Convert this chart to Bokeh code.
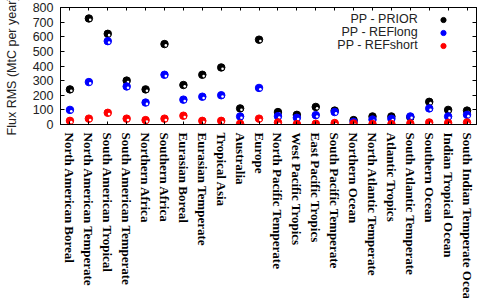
import math

from bokeh.embed import file_html
from bokeh.models import (CategoricalAxis, ColumnDataSource, CustomLabelingPolicy,
                          FactorRange, Label, Legend, LegendItem, LinearAxis,
                          Range1d, SingleIntervalTicker)
from bokeh.plotting import figure
from bokeh.resources import INLINE
from bokeh.transform import dodge

# Regions (22 TransCom-style land and ocean regions)
regions = [
    "North American Boreal", "North American Temperate", "South American Tropical",
    "South American Temperate", "Northern Africa", "Southern Africa", "Eurasian Boreal",
    "Eurasian Temperate", "Tropical Asia", "Australia", "Europe",
    "North Pacific Temperate", "West Pacific Tropics", "East Pacific Tropics",
    "South Pacific Temperate", "Northern Ocean", "North Atlantic Temperate",
    "Atlantic Tropics", "South Atlantic Temperate", "Southern Ocean",
    "Indian Tropical Ocean", "South Indian Temperate Ocean",
]

# Flux RMS (MtC per year) for each comparison
pp_prior = [240, 725, 620, 300, 240, 550, 270, 340, 390, 110, 580,
            85, 66, 120, 95, 30, 55, 55, 50, 155, 100, 95]
pp_reflong = [100, 290, 570, 260, 150, 340, 170, 190, 200, 55, 250,
              57, 46, 64, 85, 18, 34, 39, 55, 110, 55, 66]
pp_refshort = [25, 40, 80, 40, 30, 40, 60, 25, 25, 5, 40,
               14, 3, 5, 10, 7, 3, 3, 7, 14, 11, 14]

series_names = ["PP - PRIOR", "PP - REFlong", "PP - REFshort"]
series_colors = ["#000000", "#0000ff", "#ff0000"]
series_fields = ["prior", "reflong", "refshort"]

source = ColumnDataSource(dict(region=regions, prior=pp_prior,
                               reflong=pp_reflong, refshort=pp_refshort))

y_lo, y_hi = 0, 800

# frame is 416 x 117 px; the outer width follows from the borders (60 + 416 + 5)
p = figure(width=None, height=298, frame_width=416, frame_height=117,
           x_range=FactorRange(factors=regions), y_range=Range1d(y_lo, y_hi),
           output_backend="svg", toolbar_location=None,
           min_border_left=60, min_border_right=5, min_border_top=7,
           min_border_bottom=0)

p.xgrid.visible = False
p.ygrid.visible = False
p.outline_line_color = "black"
p.outline_line_alpha = 1.0
p.background_fill_color = "white"
p.border_fill_color = "white"

label_font = "Liberation Sans"
label_size = "12.5px"
label_color = "#222222"

# no tick labels on the mirrored axes
no_labels = CustomLabelingPolicy(code="return new Set()")

# Bottom category axis; names read downwards
xa = p.xaxis[0]
xa.major_label_orientation = -math.pi / 2
xa.major_label_standoff = 8
xa.major_label_text_font = "Liberation Serif"
xa.major_label_text_font_style = "bold"
xa.major_label_text_font_size = "13px"
xa.major_label_text_color = "black"
xa.major_tick_in = 3
xa.major_tick_out = 0
xa.axis_line_color = "black"
xa.major_tick_line_color = "black"

ya = p.yaxis[0]
ya.ticker = SingleIntervalTicker(interval=100, num_minor_ticks=0)
ya.major_tick_in = 4
ya.major_tick_out = 0
ya.minor_tick_line_color = None
ya.axis_line_color = "black"
ya.major_tick_line_color = "black"
ya.major_label_standoff = 7
ya.major_label_text_font = label_font
ya.major_label_text_font_size = label_size
ya.major_label_text_color = label_color
ya.axis_label = "Flux RMS (MtC per year)"
ya.axis_label_text_font = label_font
ya.axis_label_text_font_size = label_size
ya.axis_label_text_font_style = "normal"
ya.axis_label_text_line_height = 1.0
ya.axis_label_text_color = label_color
ya.axis_label_standoff = 11

# Mirrored tick marks on the right and top edges
right_axis = LinearAxis(ticker=SingleIntervalTicker(interval=100, num_minor_ticks=0),
                        major_label_policy=no_labels, major_label_standoff=0,
                        major_label_text_font_size="1px",
                        major_tick_in=4, major_tick_out=0, minor_tick_line_color=None,
                        axis_line_color="black", major_tick_line_color="black")
p.add_layout(right_axis, "right")

top_axis = CategoricalAxis(major_label_policy=no_labels, major_label_standoff=0,
                           major_label_text_font_size="1px",
                           major_tick_in=3, major_tick_out=0,
                           axis_line_color="black", major_tick_line_color="black")
p.add_layout(top_axis, "above")

# Points: a filled disc with a small white highlight
legend_items = []
for name, field, color in zip(series_names, series_fields, series_colors):
    r = p.scatter(x="region", y=field, source=source, size=7.5,
                  fill_color=color, line_color=color)
    p.scatter(x=dodge("region", 0.07, range=p.x_range), y=dodge(field, -9),
              source=source, size=2.6, fill_color="white", line_color=None)
    legend_items.append(LegendItem(label=" ", renderers=[r]))

# Legend keys (text is placed to their left, right-aligned)
legend = Legend(items=legend_items, location=(376, 72), orientation="vertical",
                padding=0, spacing=0, margin=0, glyph_width=14, glyph_height=13,
                label_height=13, label_width=0, label_standoff=0,
                label_text_font_size="10px", background_fill_alpha=0,
                border_line_color=None)
p.add_layout(legend)

for i, name in enumerate(series_names):
    p.add_layout(Label(x=18.9, y=720 - 89 * i, text=name, text_align="right",
                       text_baseline="middle", text_font=label_font,
                       text_font_size=label_size, text_color=label_color))

open("out.html", "w").write(file_html(p, INLINE))
